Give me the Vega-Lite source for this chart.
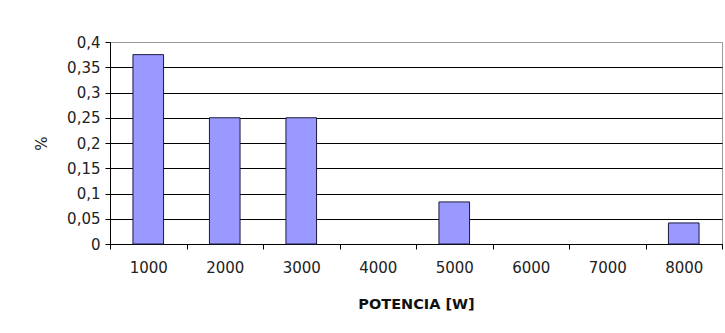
{
  "$schema": "https://vega.github.io/schema/vega-lite/v6.json",
  "width": 612,
  "height": 202,
  "autosize": "none",
  "padding": {"left": 110, "top": 42, "right": 3, "bottom": 89},
  "background": "white",
  "data": {
    "values": [
      {"potencia": "1000", "pct": 0.375},
      {"potencia": "2000", "pct": 0.25},
      {"potencia": "3000", "pct": 0.25},
      {"potencia": "4000", "pct": 0},
      {"potencia": "5000", "pct": 0.0833},
      {"potencia": "6000", "pct": 0},
      {"potencia": "7000", "pct": 0},
      {"potencia": "8000", "pct": 0.0417}
    ]
  },
  "mark": {"type": "bar", "fill": "#9999ff", "stroke": "#1a1a40", "strokeWidth": 1, "width": {"band": 0.4}},
  "encoding": {
    "x": {
      "field": "potencia",
      "type": "ordinal",
      "sort": null,
      "scale": {"paddingInner": 0, "paddingOuter": 0},
      "axis": {
        "title": "POTENCIA [W]",
        "labelAngle": 0,
        "tickBand": "extent",
        "tickSize": 5,
        "tickColor": "#000",
        "domainColor": "#000",
        "labelPadding": 11,
        "labelFont": "DejaVu Sans",
        "labelFontSize": 15,
        "labelColor": "#222",
        "titleFont": "DejaVu Sans",
        "titleFontSize": 14.5,
        "titleFontWeight": "bold",
        "titleColor": "#111",
        "titleY": 60,
        "titleBaseline": "middle",
        "grid": false
      }
    },
    "y": {
      "field": "pct",
      "type": "quantitative",
      "scale": {"domain": [0, 0.4], "nice": false},
      "axis": {
        "title": "%",
        "values": [0, 0.05, 0.1, 0.15, 0.2, 0.25, 0.3, 0.35, 0.4],
        "labelExpr": "replace(format(datum.value, '.2~f'), '.', ',')",
        "grid": true,
        "gridColor": {"condition": {"test": "datum.value >= 0.4", "value": "#999999"}, "value": "#000000"},
        "gridWidth": 1,
        "domainColor": "#000",
        "tickColor": "#000",
        "tickSize": 5,
        "labelPadding": 5,
        "labelFont": "DejaVu Sans",
        "labelFontSize": 15,
        "labelColor": "#222",
        "titleFont": "DejaVu Sans",
        "titleFontSize": 15,
        "titleFontWeight": "normal",
        "titleColor": "#222",
        "titleX": -69,
        "titleY": 101,
        "titleAlign": "center",
        "titleBaseline": "middle",
        "titleAngle": -90
      }
    },
    "strokeOpacity": {"condition": {"test": "datum.pct == 0", "value": 0}, "value": 1}
  },
  "config": {
    "view": {"stroke": "#999999", "strokeWidth": 1}
  }
}
